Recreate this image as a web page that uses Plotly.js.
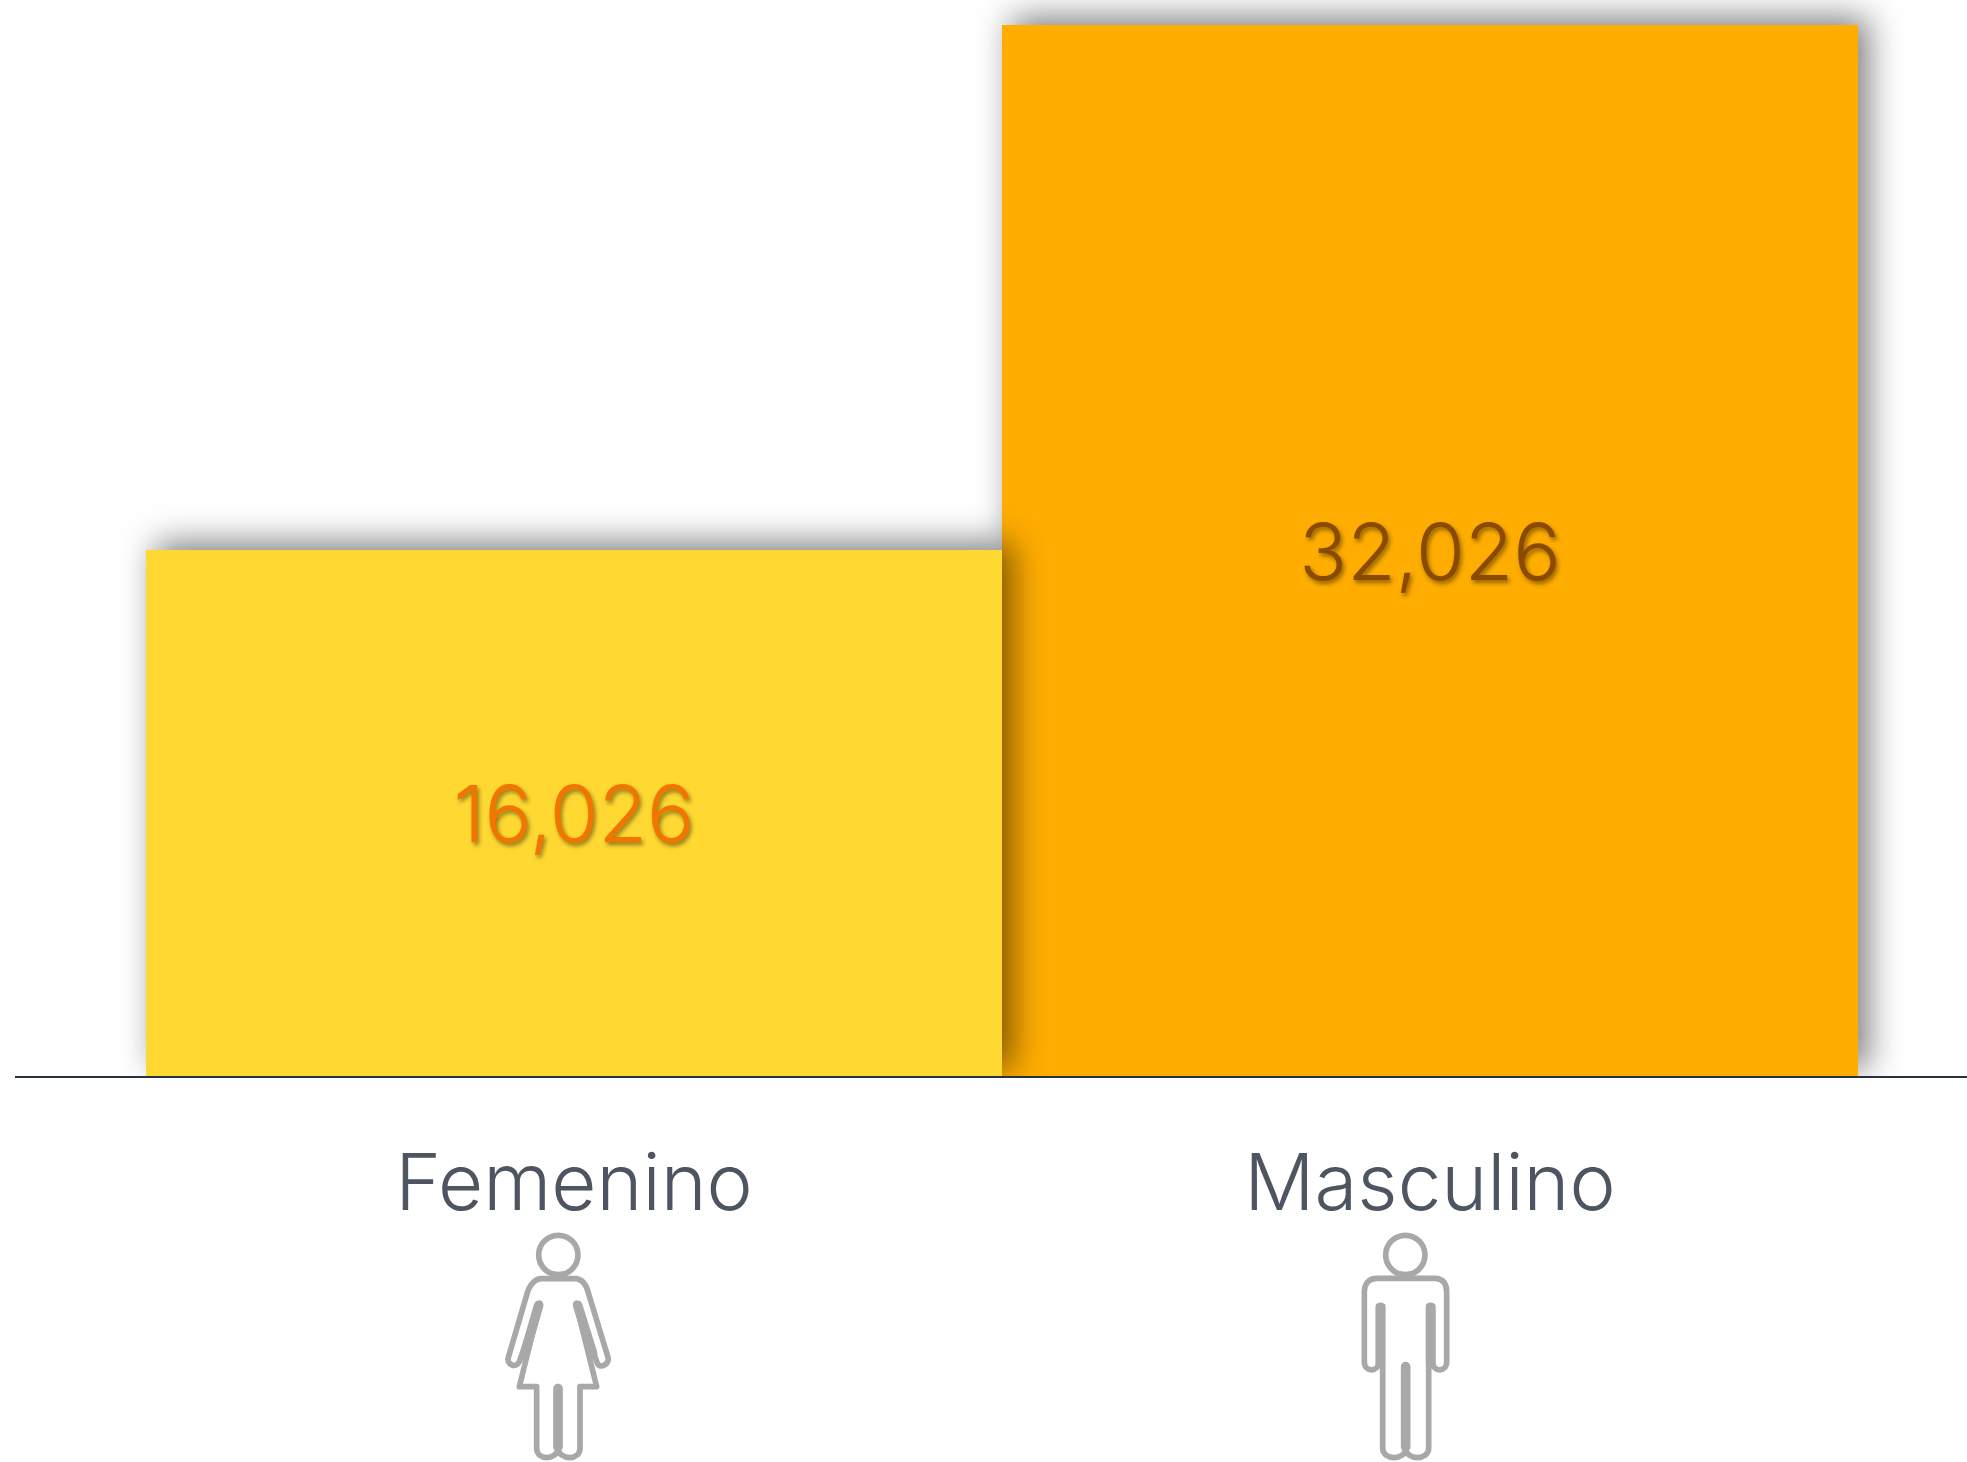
<!DOCTYPE html>
<html>
<head>
<meta charset="utf-8">
<script src="https://cdn.plot.ly/plotly-3.0.1.min.js"></script>
<style>
html,body{margin:0;padding:0;background:#fff;overflow:hidden}
#chart{width:1967px;height:1462px}
.bars .point path{filter:drop-shadow(10px -7px 17px rgba(0,0,0,.52))}
#chart g{clip-path:none !important}
</style>
</head>
<body>
<div id="chart"></div>
<script>
const categories = ["Femenino", "Masculino"];
const values = [16026, 32026];
const valueLabels = ["16,026", "32,026"];
const barColors = ["#FFD932", "#FFAD00"];
const textColors = ["#F27500", "#8A4A00"];
const iconColor = "#A8A8A8";

function icon(body, thick, head) {
  const svg = `<svg xmlns="http://www.w3.org/2000/svg" viewBox="0 0 480 726">` +
    `<g fill="none" stroke="${iconColor}" stroke-width="17" stroke-linejoin="round" stroke-linecap="round">` +
    `<circle cx="${head[0]}" cy="${head[1]}" r="${head[2]}"/><path d="${body}"/>` +
    `<path d="${thick}" stroke-width="29"/></g></svg>`;
  return "data:image/svg+xml;base64," + btoa(svg);
}
const womanPath = "M185 176 H285 C305 176 320 195 327 225 L384 412 C390 432 360 448 352 430 L288 250 L350 500 H300 V685 C300 722 238 722 234 685 V500 V685 C230 722 170 722 170 685 V500 H118 L180 250 L118 425 C108 448 78 432 85 412 L140 225 C147 195 165 176 185 176 Z";
const womanThick = "M176 256 L134 400 M234 506 V680 M293 256 L338 400";
const manPath = "M110 175 H285 C308 175 320 190 320 215 V425 C320 458 278 458 278 425 V258 H266 V685 C266 722 198 722 197 685 V435 V685 C196 722 128 722 128 685 V258 H116 V425 C116 458 73 458 73 425 V215 C73 190 88 175 110 175 Z";
const manThick = "M121 262 V430 M197 440 V680 M272 262 V430";

const W = 1967, H = 1462, ml = 15, mb = H - 1076;
const pw = W - ml, ph = H - mb;
const px = x => (x - ml) / pw;
const py = y => (H - mb - y) / ph;
const catW = 856;
const fam = "Inter, 'Open Sans', sans-serif";

const mkTrace = i => ({
  type: "bar",
  x: [categories[i]],
  y: [values[i]],
  width: [1],
  marker: {color: barColors[i], line: {width: 0}},
  text: [valueLabels[i]],
  textposition: "inside",
  insidetextanchor: "middle",
  textangle: 0,
  constraintext: "none",
  cliponaxis: false,
  textfont: {family: fam, size: 79, weight: 300, color: textColors[i],
             shadow: "2px 3px 4px rgba(60,40,0,.55)"},
  hoverinfo: "skip"
});

const layout = {
  width: W, height: H,
  margin: {l: ml, r: 0, t: 0, b: mb, pad: 0},
  paper_bgcolor: "#fff", plot_bgcolor: "rgba(0,0,0,0)",
  barmode: "overlay",
  bargap: 0,
  showlegend: false,
  xaxis: {
    type: "category",
    categoryorder: "array",
    categoryarray: categories,
    range: [-0.5 - (146 - ml) / catW, 1.5 + (W - 1858) / catW],
    showgrid: false, zeroline: false,
    showline: true, linecolor: "#26323F", linewidth: 2,
    ticks: "", ticklabelstandoff: 38,
    tickfont: {family: fam, size: 78, weight: 300, color: "#4D5560"},
    fixedrange: true
  },
  yaxis: {range: [0, 32026 * 1076 / 1051], visible: false, fixedrange: true},
  images: [
    {source: icon(womanPath, womanThick, [235, 105, 59]), xref: "paper", yref: "paper",
     x: px(480), y: py(1220), sizex: 160 / pw, sizey: 242 / ph,
     xanchor: "left", yanchor: "top", sizing: "stretch", layer: "above"},
    {source: icon(manPath, manThick, [196, 105, 59]), xref: "paper", yref: "paper",
     x: px(1340), y: py(1220), sizex: 160 / pw, sizey: 242 / ph,
     xanchor: "left", yanchor: "top", sizing: "stretch", layer: "above"}
  ]
};

Plotly.newPlot("chart", [mkTrace(1), mkTrace(0)], layout, {displayModeBar: false, staticPlot: true});
</script>
</body>
</html>
